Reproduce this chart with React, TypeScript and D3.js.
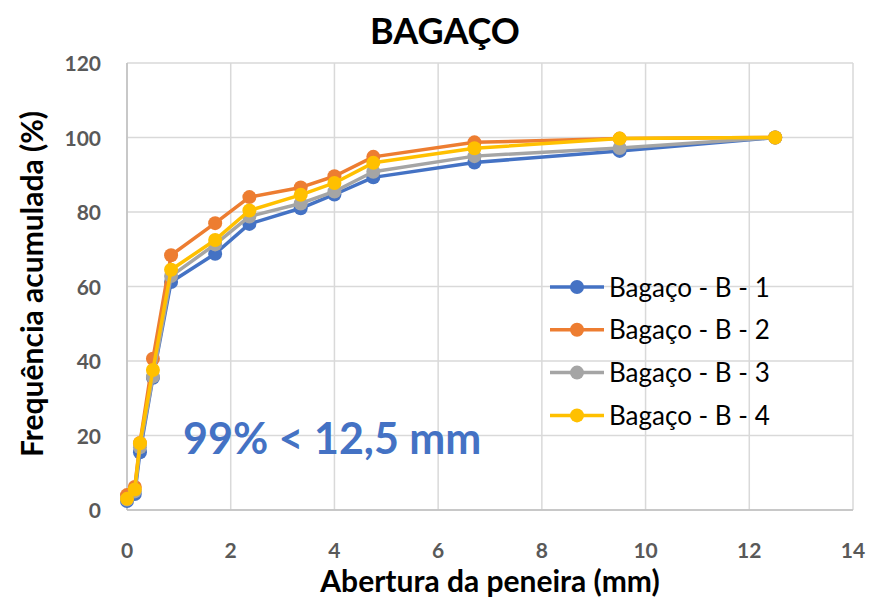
import React from "react";
import * as d3 from "d3";

const sieve = [0, 0.15, 0.25, 0.5, 0.85, 1.7, 2.36, 3.35, 4.0, 4.75, 6.7, 9.5, 12.5];
const b1 = [2.4, 4.3, 15.5, 35.5, 61.2, 68.8, 76.8, 81.0, 84.7, 89.3, 93.3, 96.4, 100];
const b2 = [4.0, 6.2, 18.0, 40.6, 68.4, 77.0, 84.0, 86.6, 89.6, 94.8, 98.7, 99.7, 100];
const b3 = [2.8, 5.0, 16.8, 35.8, 62.8, 71.3, 78.8, 82.3, 85.5, 90.8, 95.0, 97.2, 100];
const b4 = [3.0, 5.5, 17.9, 37.6, 64.5, 72.5, 80.4, 84.6, 87.8, 93.2, 97.1, 99.7, 100];
const seriesNames = ["Bagaço - B - 1", "Bagaço - B - 2", "Bagaço - B - 3", "Bagaço - B - 4"];
const seriesValues = [b1, b2, b3, b4];
const colors = ["#4472C4", "#ED7D31", "#A5A5A5", "#FFC000"];
const xTicks = [0, 2, 4, 6, 8, 10, 12, 14];
const yTicks = [0, 20, 40, 60, 80, 100, 120];

const W = 875, H = 598;
const font = "Lato, 'Open Sans', sans-serif";

export default function App() {
  const x = d3.scaleLinear().domain([0, 14]).range([127, 853]);
  const y = d3.scaleLinear().domain([0, 120]).range([510, 63]);
  const line = d3.line<[number, number]>().x(d => x(d[0])).y(d => y(d[1]));
  return (
    <svg width={W} height={H} style={{ position: "absolute", left: 0, top: 0, background: "#fff" }}>
      <rect width={W} height={H} fill="#fff" />
      {yTicks.map(t => (
        <line key={"gy" + t} x1={x(0)} x2={x(14)} y1={y(t)} y2={y(t)} stroke="#d9d9d9" strokeWidth={1.5} />
      ))}
      {xTicks.map(t => (
        <line key={"gx" + t} x1={x(t)} x2={x(t)} y1={y(0)} y2={y(120)} stroke="#d9d9d9" strokeWidth={1.5} />
      ))}
      <line x1={x(0)} x2={x(14)} y1={y(0)} y2={y(0)} stroke="#bfbfbf" strokeWidth={1.5} />
      <line x1={x(0)} x2={x(0)} y1={y(0)} y2={y(120)} stroke="#bfbfbf" strokeWidth={1.5} />
      {yTicks.map(t => (
        <text key={"ty" + t} x={101} y={y(t) + 8} textAnchor="end" fontFamily={font} fontWeight="bold" fontSize={21} fill="#595959">{t}</text>
      ))}
      {xTicks.map(t => (
        <text key={"tx" + t} x={x(t)} y={558} textAnchor="middle" fontFamily={font} fontWeight="bold" fontSize={21} fill="#595959">{t}</text>
      ))}
      {seriesValues.map((vals, i) => {
        const pts = sieve.map((s, j) => [s, vals[j]] as [number, number]);
        return (
          <g key={"s" + i}>
            <path d={line(pts) || ""} fill="none" stroke={colors[i]} strokeWidth={3.5} strokeLinejoin="round" />
            {pts.map((p, j) => (
              <circle key={j} cx={x(p[0])} cy={y(p[1])} r={7} fill={colors[i]} />
            ))}
          </g>
        );
      })}
      <text x={445} y={44} textAnchor="middle" fontFamily={font} fontWeight="bold" fontSize={36} fill="#000">BAGAÇO</text>
      <text transform={`translate(43,284) rotate(-90)`} textAnchor="middle" fontFamily={font} fontWeight="bold" fontSize={30} fill="#000">Frequência acumulada (%)</text>
      <text x={490} y={592} textAnchor="middle" fontFamily={font} fontWeight="bold" fontSize={30} fill="#000">Abertura da peneira (mm)</text>
      <text x={183} y={454} fontFamily={font} fontWeight="bold" fontSize={43} fill="#4472C4">99% &lt; 12,5 mm</text>
      {seriesNames.map((n, i) => {
        const ly = 287 + i * 42.8;
        return (
          <g key={"l" + i}>
            <line x1={550} x2={604} y1={ly} y2={ly} stroke={colors[i]} strokeWidth={3.5} />
            <circle cx={577} cy={ly} r={7} fill={colors[i]} />
            <text x={609} y={ly + 9.5} fontFamily={font} fontSize={26} fill="#000">{n}</text>
          </g>
        );
      })}
    </svg>
  );
}
